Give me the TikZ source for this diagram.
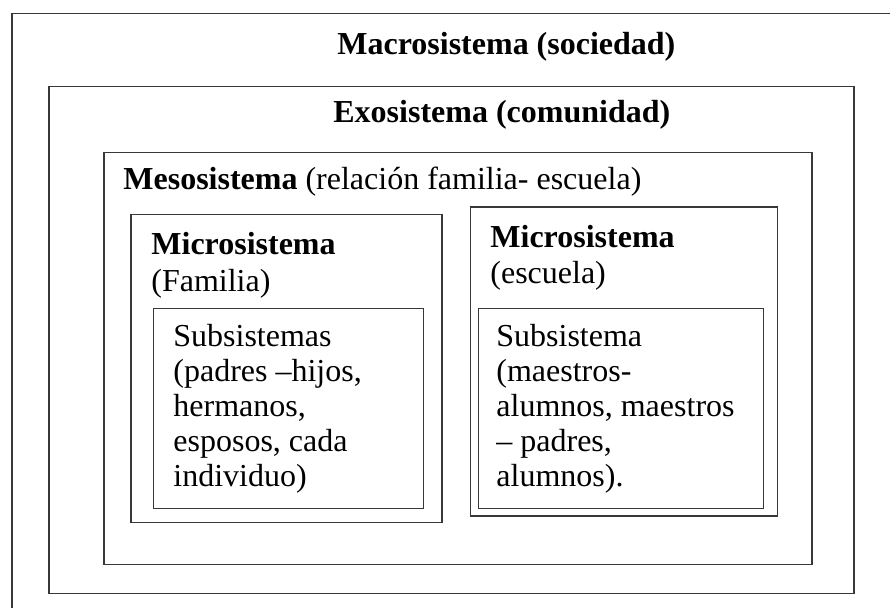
\documentclass[tikz,border=0pt]{standalone}
\usepackage{fontspec}
\setmainfont{Liberation Serif}
\tikzset{
  boxline/.style={draw=black!78, line width=0.75pt},
  frame/.style={boxline, rectangle, inner sep=0pt, anchor=north west},
  txt/.style={anchor=base west, inner sep=0pt, font=\fontsize{16}{17.5}\selectfont},
  btxt/.style={txt, font=\fontsize{16}{17.5}\selectfont\bfseries}
}
\begin{document}
\begin{tikzpicture}[x=0.5pt,y=-0.5pt]
\useasboundingbox (0,0) rectangle (890,608);
\clip (0,0) rectangle (890,608);
% outer (macro) frame, running off the picture at right and bottom
\node[frame, minimum width=460pt, minimum height=310pt] (macro) at (11,13) {};
\node[frame, minimum width=402.5pt, minimum height=253.5pt] (exo) at (48,86) {};
\node[frame, minimum width=354pt, minimum height=206pt] (meso) at (103,152) {};
\node[frame, minimum width=155.5pt, minimum height=154pt] (microA) at (130,214) {};
\node[frame, minimum width=135pt, minimum height=100pt] (subA) at (152.5,308) {};
\node[frame, minimum width=153.5pt, minimum height=154.5pt] (microB) at (469.5,206.5) {};
\node[frame, minimum width=142.5pt, minimum height=100pt] (subB) at (477.5,308) {};

\node[btxt] (tmacro) at (337,55) {Macrosistema (sociedad)};
\node[btxt] (texo) at (333,123) {Exosistema (comunidad)};
\node[txt] (tmeso) at (123,190) {\textbf{Mesosistema} (relación familia- escuela)};

\node[btxt] (tmA1) at (151,255) {Microsistema};
\node[txt] (tmA2) at (151,292) {(Familia)};
\node[txt] (tsA1) at (173,347) {Subsistemas};
\node[txt] (tsA2) at (173,382) {(padres –hijos,};
\node[txt] (tsA3) at (173,417) {hermanos,};
\node[txt] (tsA4) at (173,452) {esposos, cada};
\node[txt] (tsA5) at (173,487) {individuo)};

\node[btxt] (tmB1) at (490,248) {Microsistema};
\node[txt] (tmB2) at (490,284) {(escuela)};
\node[txt] (tsB1) at (496,347) {Subsistema};
\node[txt] (tsB2) at (496,382) {(maestros-};
\node[txt] (tsB3) at (496,417) {alumnos, maestros};
\node[txt] (tsB4) at (496,452) {– padres,};
\node[txt] (tsB5) at (496,487) {alumnos).};
\end{tikzpicture}
\end{document}
